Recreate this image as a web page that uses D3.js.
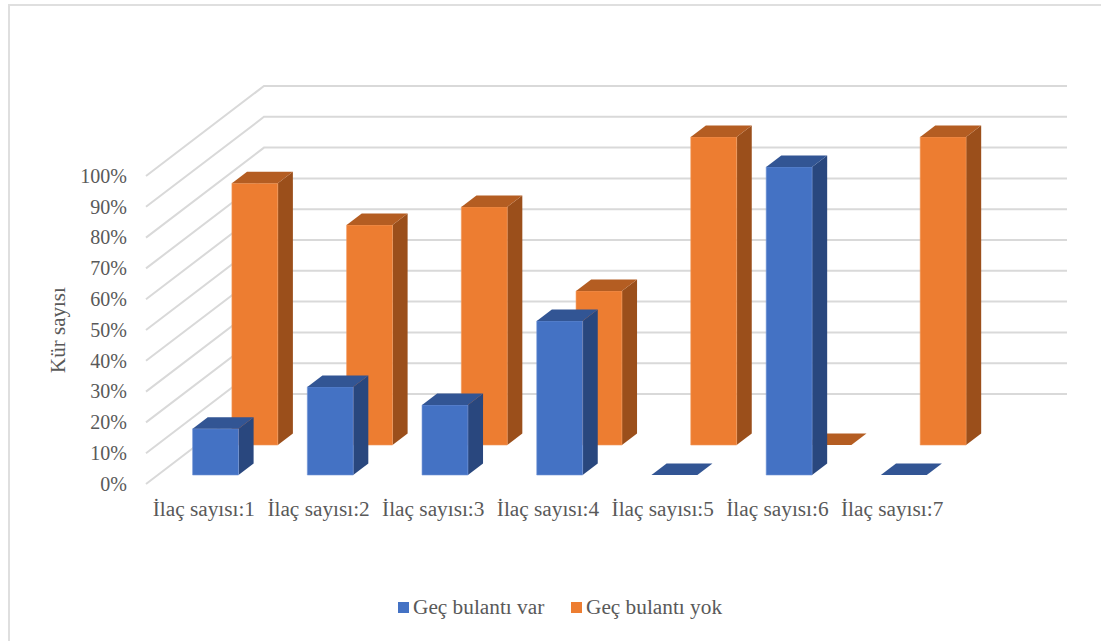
<!DOCTYPE html>
<html>
<head>
<meta charset="utf-8">
<script src="https://cdn.jsdelivr.net/npm/d3@7"></script>
<style>
  html, body { margin: 0; padding: 0; background: #fff; }
  svg { display: block; }
  text { font-family: "Liberation Serif", serif; fill: #595959; }
</style>
</head>
<body>
<div id="chart"></div>
<script>
const categories = ["İlaç sayısı:1", "İlaç sayısı:2", "İlaç sayısı:3", "İlaç sayısı:4", "İlaç sayısı:5", "İlaç sayısı:6", "İlaç sayısı:7"];
const gecBulantiVar = [15, 28.6, 22.7, 50, 0, 100, 0];
const gecBulantiYok = [85, 71.4, 77.3, 50, 100, 0, 100];
const seriesNames = ["Geç bulantı var", "Geç bulantı yok"];
const yTicks = [0, 10, 20, 30, 40, 50, 60, 70, 80, 90, 100];

const width = 1101;
const height = 641;

const svg = d3.select("#chart").append("svg").attr("width", width).attr("height", height);

// Outer chart frame, only top and left show
svg.append("path")
  .attr("d", "M9,641V5H1101")
  .attr("fill", "none")
  .attr("stroke", "#dfdfdf")
  .attr("stroke-width", 2);

// Front plane scales
const xScale = d3.scaleBand().domain(categories).range([146.4, 949.4]).paddingInner(0.6).paddingOuter(0.3);
const labelScale = d3.scaleBand().domain(categories).range([146, 949]);
const yScale = d3.scaleLinear().domain([0, 100]).range([484, 176]);

// Oblique depth: 0 is the front edge of the floor, 1 the back wall
const depthX = d3.scaleLinear().domain([0, 1]).range([0, 118]);
const depthY = d3.scaleLinear().domain([0, 1]).range([0, -90]);

const project = (x, v, t) => [x + depthX(t), yScale(v) + depthY(t)];
const poly = (pts) => "M" + pts.map((p) => p.join(",")).join("L") + "Z";

// Gridlines run along the side wall and then across the back wall
svg.append("g")
  .selectAll("path")
  .data(yTicks)
  .join("path")
  .attr("fill", "none")
  .attr("stroke", "#d9d9d9")
  .attr("stroke-width", 2)
  .attr("d", (d) => d3.line()([project(146, d, 0), project(146, d, 1), project(949, d, 1)]));

// Draw one row of 3D columns
function drawRow(values, depthStart, colors) {
  const depthEnd = depthStart + 0.128;
  const g = svg.append("g");
  categories.forEach((c, i) => {
    const x0 = xScale(c);
    const x1 = x0 + xScale.bandwidth();
    const v = values[i];
    if (v > 0) {
      g.append("path")
        .attr("fill", colors.side)
        .attr("d", poly([project(x1, 0, depthStart), project(x1, 0, depthEnd), project(x1, v, depthEnd), project(x1, v, depthStart)]));
      g.append("path")
        .attr("fill", colors.front)
        .attr("stroke", colors.edge)
        .attr("stroke-width", 0.6)
        .attr("d", poly([project(x0, 0, depthStart), project(x1, 0, depthStart), project(x1, v, depthStart), project(x0, v, depthStart)]));
    }
    g.append("path")
      .attr("fill", colors.top)
      .attr("d", poly([project(x0, v, depthStart), project(x1, v, depthStart), project(x1, v, depthEnd), project(x0, v, depthEnd)]));
  });
}

// Back row first so the front row sits over it
drawRow(gecBulantiYok, 0.433, {front: "#ed7d31", side: "#9b4f1b", top: "#b45d22", edge: "#f29a5e"});
drawRow(gecBulantiVar, 0.1, {front: "#4472c4", side: "#29477e", top: "#325594", edge: "#7396d6"});

// Y axis labels
svg.append("g")
  .selectAll("text")
  .data(yTicks)
  .join("text")
  .attr("x", 127)
  .attr("y", (d) => yScale(d) + 6.8)
  .attr("text-anchor", "end")
  .attr("font-size", 20)
  .text((d) => d + "%");

// Category labels
svg.append("g")
  .selectAll("text")
  .data(categories)
  .join("text")
  .attr("x", (d) => labelScale(d) + labelScale.bandwidth() / 2 + 0.5)
  .attr("y", 516)
  .attr("text-anchor", "middle")
  .attr("font-size", 21.3)
  .text((d) => d);

// Axis title
svg.append("text")
  .attr("transform", "translate(65,330) rotate(-90)")
  .attr("text-anchor", "middle")
  .attr("font-size", 21)
  .text("Kür sayısı");

// Legend
const legendX = [398, 571];
const legendColors = ["#4472c4", "#ed7d31"];
const legend = svg.append("g")
  .selectAll("g")
  .data(seriesNames)
  .join("g")
  .attr("transform", (d, i) => `translate(${legendX[i]},602)`);
legend.append("rect")
  .attr("width", 11)
  .attr("height", 11)
  .attr("fill", (d, i) => legendColors[i]);
legend.append("text")
  .attr("x", 15)
  .attr("y", 12)
  .attr("font-size", 21.3)
  .text((d) => d);
</script>
</body>
</html>
